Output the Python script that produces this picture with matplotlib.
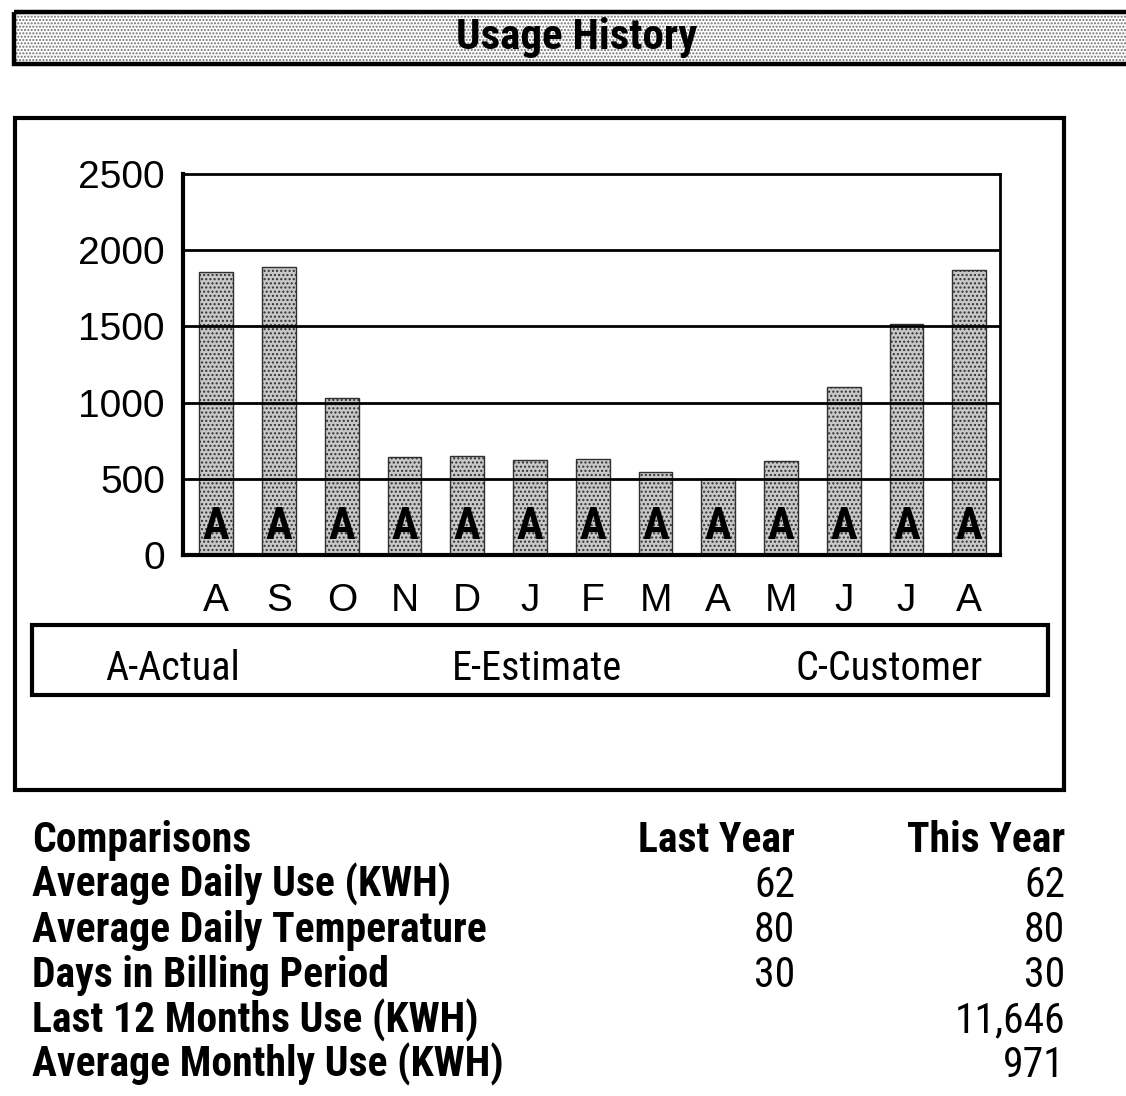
import matplotlib
matplotlib.use('Agg')
import matplotlib.pyplot as plt
from matplotlib.patches import Rectangle
import matplotlib.transforms as mtransforms
from matplotlib import font_manager as fm

# ---------------- data ----------------
months = ['A', 'S', 'O', 'N', 'D', 'J', 'F', 'M', 'A', 'M', 'J', 'J', 'A']
usage = [1860, 1890, 1030, 645, 650, 625, 632, 546, 500, 618, 1100, 1513, 1868]
read_codes = ['A'] * 13
yticks = [0, 500, 1000, 1500, 2000, 2500]
legend_items = ['A-Actual', 'E-Estimate', 'C-Customer']
table_header = ['Comparisons', 'Last Year', 'This Year']
row_labels = ['Average Daily Use (KWH)', 'Average Daily Temperature',
              'Days in Billing Period', 'Last 12 Months Use (KWH)',
              'Average Monthly Use (KWH)']
last_year = ['62', '80', '30', '', '']
this_year = ['62', '80', '30', '11,646', '971']
title = 'Usage History'


# ---------------- fonts ----------------
def pick(cands):
    for c in cands:
        try:
            fm.findfont(fm.FontProperties(family=c), fallback_to_default=False)
            return c
        except Exception:
            pass
    return None


narrow_scale = {'Liberation Sans Narrow': 1.0, 'Arial Narrow': 1.0,
                'Roboto Condensed': 1.0, 'Open Sans Condensed': 1.0,
                'DejaVu Sans Condensed': 0.88}
nf = pick(list(narrow_scale.keys()))
if nf is None:
    NARROW = ['Liberation Sans', 'DejaVu Sans']
    NS = 0.86
else:
    NARROW = [nf, 'Liberation Sans', 'DejaVu Sans']
    NS = narrow_scale[nf]
REG = ['Liberation Sans', 'DejaVu Sans']
plt.rcParams['hatch.linewidth'] = 1.0

W, H = 1126, 1096
fig = plt.figure(figsize=(W / 100, H / 100), dpi=100)

# overlay in pixel coordinates
ov = fig.add_axes([0, 0, 1, 1])
ov.set_xlim(0, W)
ov.set_ylim(H, 0)
ov.axis('off')

# title bar
ov.add_patch(Rectangle((14, 12), 1140, 52, facecolor='white', hatch='.....',
                       edgecolor='#707070', lw=0))
ov.add_patch(Rectangle((14, 12), 1140, 52, fill=False, edgecolor='black', lw=3.2))
ov.text(577, 38, title, family=NARROW, fontweight='bold', fontsize=31 * NS,
        ha='center', va='center')

# outer frame
ov.add_patch(Rectangle((15, 118), 1049, 672, fill=False, edgecolor='black', lw=3))
# legend box
ov.add_patch(Rectangle((32, 625), 1016, 70, fill=False, edgecolor='black', lw=3))
legend_x = [105, 452, 795]
for lx, item in zip(legend_x, legend_items):
    ov.text(lx, 668, item, family=NARROW, fontsize=29 * NS, ha='left', va='center')

# comparison table
base = 852
step = 45
TS = 30 * NS
ov.text(32, base, table_header[0], family=NARROW, fontweight='bold', fontsize=TS,
        ha='left', va='baseline')
ov.text(795, base, table_header[1], family=NARROW, fontweight='bold', fontsize=TS,
        ha='right', va='baseline')
ov.text(1065, base, table_header[2], family=NARROW, fontweight='bold', fontsize=TS,
        ha='right', va='baseline')
for i, (lab, ly, ty) in enumerate(zip(row_labels, last_year, this_year)):
    y = base + step * (i + 1)
    ov.text(32, y, lab, family=NARROW, fontweight='bold', fontsize=TS,
            ha='left', va='baseline')
    ov.text(795, y, ly, family=NARROW, fontsize=TS, ha='right', va='baseline')
    ov.text(1065, y, ty, family=NARROW, fontsize=TS, ha='right', va='baseline')

# ---------------- bar chart ----------------
ax = fig.add_axes([183 / W, 1 - 555 / H, 817 / W, 381 / H])
ax.set_facecolor('none')
x = list(range(len(months)))
ax.bar(x, usage, width=0.54, color='#c8c8c8', edgecolor='#303030', hatch='....',
       linewidth=1.0, zorder=2)
for g in yticks[1:-1]:
    ax.axhline(g, color='black', lw=2, zorder=3)
ax.set_ylim(0, 2500)
ax.set_xlim(-0.53, 12.49)
ax.set_yticks(yticks)
ax.set_yticklabels([str(v) for v in yticks], family=REG, fontsize=28)
ax.set_xticks(x)
ax.set_xticklabels(months, family=REG, fontsize=28)
ax.tick_params(axis='y', length=0, pad=13)
ax.tick_params(axis='x', length=0, pad=20)
ax.spines['left'].set_linewidth(3)
ax.spines['bottom'].set_linewidth(3)
ax.spines['right'].set_linewidth(2)
ax.spines['top'].set_linewidth(2)
for s in ax.spines.values():
    s.set_zorder(4)

trans = mtransforms.blended_transform_factory(ax.transData, ax.transAxes)
for xi, code in zip(x, read_codes):
    ax.text(xi, 0.042, code, transform=trans, family=NARROW, fontweight='bold',
            fontsize=32 * NS, ha='center', va='baseline', zorder=5)

fig.savefig('out.png', dpi=100)
